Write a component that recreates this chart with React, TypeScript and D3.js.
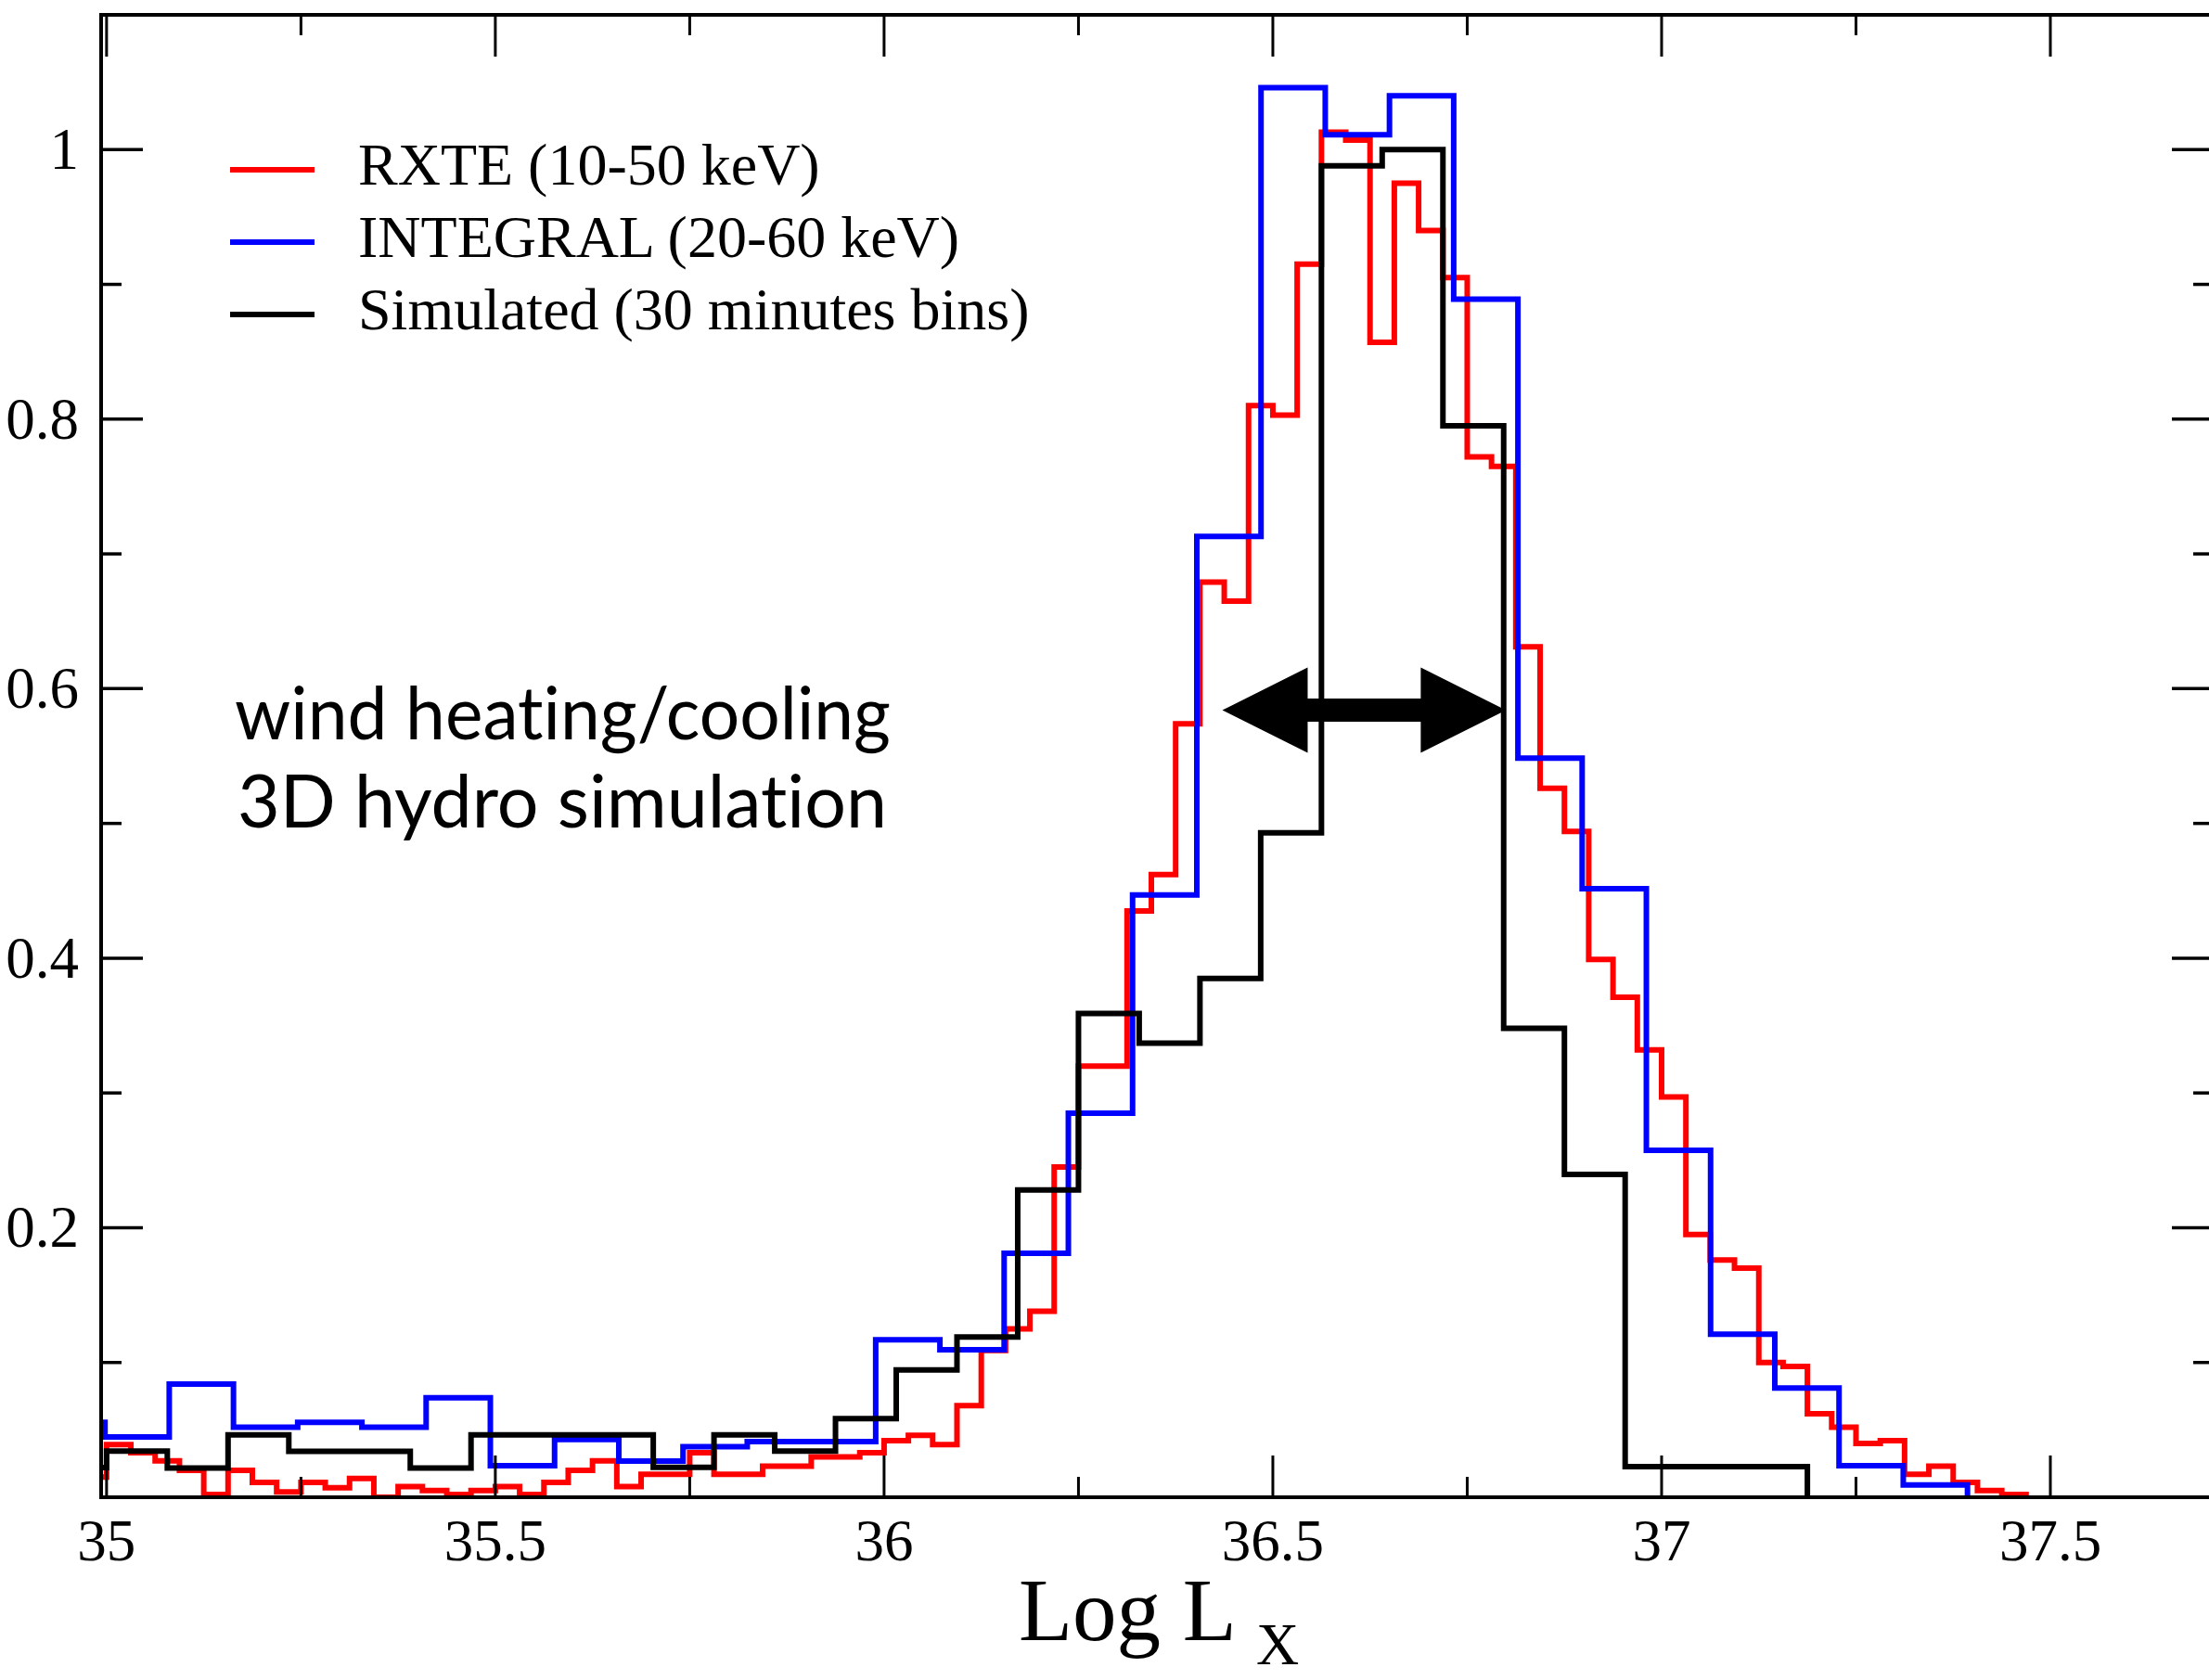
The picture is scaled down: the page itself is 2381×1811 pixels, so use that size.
import React from "react";
import * as d3 from "d3";

// ---- data ----
const rxteStart = 34.96875;
const rxteWidth = 1 / 32;
const rxteValues = [
  0.015, 0.039, 0.033, 0.027, 0.020, 0.002, 0.020, 0.011, 0.004, 0.011,
  0.007, 0.014, 0.000, 0.008, 0.005, 0.002, 0.005, 0.008, 0.002, 0.011,
  0.020, 0.027, 0.008, 0.017, 0.017, 0.033, 0.017, 0.017, 0.023, 0.023,
  0.030, 0.030, 0.033, 0.042, 0.046, 0.039, 0.068, 0.109, 0.125, 0.138,
  0.245, 0.320, 0.320, 0.435, 0.462, 0.574, 0.679, 0.665, 0.810, 0.803,
  0.915, 1.013, 1.007, 0.857, 0.975, 0.940, 0.905, 0.772, 0.765, 0.631,
  0.526, 0.494, 0.399, 0.371, 0.332, 0.297, 0.195, 0.176, 0.170, 0.100,
  0.097, 0.062, 0.052, 0.040, 0.042, 0.017, 0.023, 0.011, 0.005, 0.002,
];

const integralStart = 34.9154;
const integralWidth = 0.0826;
const integralValues = [
  0.0555, 0.0447, 0.084, 0.052, 0.0555, 0.052, 0.0739, 0.0234, 0.0429, 0.0268,
  0.0376, 0.0413, 0.0413, 0.1168, 0.1094, 0.181, 0.285, 0.447, 0.713, 1.046,
  1.011, 1.040, 0.889, 0.5485, 0.4515, 0.2575, 0.121, 0.081, 0.0234, 0.0092,
];

const simStart = 34.921875;
const simWidth = 0.078125;
const simValues = [
  0.022, 0.0342, 0.0216, 0.0463, 0.034, 0.034, 0.0216, 0.0463, 0.0463, 0.0463,
  0.0222, 0.0463, 0.0342, 0.0583, 0.0945, 0.119, 0.228, 0.359, 0.337, 0.385,
  0.493, 0.988, 1.000, 0.795, 0.348, 0.2395, 0.0227, 0.0227, 0.0227,
];

const xMajorTicks = [35, 35.5, 36, 36.5, 37, 37.5];
const xMinorTicks = [35.25, 35.75, 36.25, 36.75, 37.25];
const xTickLabels = ["35", "35.5", "36", "36.5", "37", "37.5"];
const yMajorTicks = [0.2, 0.4, 0.6, 0.8, 1.0];
const yMinorTicks = [0.1, 0.3, 0.5, 0.7, 0.9];
const yTickLabels = ["0.2", "0.4", "0.6", "0.8", "1"];

const legendLabels = [
  "RXTE (10-50 keV)",
  "INTEGRAL (20-60 keV)",
  "Simulated (30 minutes bins)",
];
const annotationLines = ["wind heating/cooling", "3D hydro simulation"];
const arrowFrom = 36.435;
const arrowTo = 36.8;
const arrowLevel = 0.584;

// ---- layout ----
const W = 2381;
const H = 1811;
const left = 109;
const right = 2386;
const top = 16;
const bottom = 1614;

const x = d3.scaleLinear().domain([34.993, 37.71]).range([left, right]);
const y = d3.scaleLinear().domain([0, 1.1]).range([bottom, top]);

function stepPath(start: number, width: number, values: number[]) {
  const pts: [number, number][] = [];
  pts.push([start, 0]);
  values.forEach((v, i) => {
    pts.push([start + i * width, v]);
    pts.push([start + (i + 1) * width, v]);
  });
  pts.push([start + values.length * width, 0]);
  const line = d3
    .line<[number, number]>()
    .x((d) => x(d[0]))
    .y((d) => y(d[1]));
  return line(pts) || "";
}

const series = [
  { start: rxteStart, width: rxteWidth, values: rxteValues, color: "#ff0000" },
  { start: integralStart, width: integralWidth, values: integralValues, color: "#0000ff" },
  { start: simStart, width: simWidth, values: simValues, color: "#000000" },
];

export default function App() {
  const major = 45;
  const minor = 22;
  const serif = "'Liberation Serif', 'Times New Roman', serif";
  const sans = "Lato, 'Open Sans', sans-serif";

  const ax1 = x(arrowFrom);
  const ax2 = x(arrowTo);
  const ay = y(arrowLevel);
  const headLen = 92;
  const headHalf = 46;
  const shaftHalf = 12.5;
  const arrowPts = [
    [ax1, ay],
    [ax1 + headLen, ay - headHalf],
    [ax1 + headLen, ay - shaftHalf],
    [ax2 - headLen, ay - shaftHalf],
    [ax2 - headLen, ay - headHalf],
    [ax2, ay],
    [ax2 - headLen, ay + headHalf],
    [ax2 - headLen, ay + shaftHalf],
    [ax1 + headLen, ay + shaftHalf],
    [ax1 + headLen, ay + headHalf],
  ]
    .map((p) => p.join(","))
    .join(" ");

  return (
    <svg
      width={W}
      height={H}
      viewBox={`0 0 ${W} ${H}`}
      style={{ position: "absolute", left: 0, top: 0, background: "#fff" }}
    >
      <rect x={0} y={0} width={W} height={H} fill="#fff" />
      <defs>
        <clipPath id="plotClip">
          <rect x={left} y={top} width={right - left} height={bottom - top} />
        </clipPath>
      </defs>

      <g clipPath="url(#plotClip)">
        {series.map((s, i) => (
          <path
            key={i}
            d={stepPath(s.start, s.width, s.values)}
            fill="none"
            stroke={s.color}
            strokeWidth={6}
            strokeLinejoin="miter"
            strokeLinecap="butt"
          />
        ))}
      </g>

      {/* arrow */}
      <polygon points={arrowPts} fill="#000" />

      {/* frame */}
      <rect
        x={left}
        y={top}
        width={right - left}
        height={bottom - top}
        fill="none"
        stroke="#000"
        strokeWidth={4}
      />

      {/* x ticks */}
      {xMajorTicks.map((t) => (
        <g key={"xM" + t}>
          <line x1={x(t)} x2={x(t)} y1={bottom} y2={bottom - major} stroke="#000" strokeWidth={3} />
          <line x1={x(t)} x2={x(t)} y1={top} y2={top + major} stroke="#000" strokeWidth={3} />
        </g>
      ))}
      {xMinorTicks.map((t) => (
        <g key={"xm" + t}>
          <line x1={x(t)} x2={x(t)} y1={bottom} y2={bottom - minor} stroke="#000" strokeWidth={3} />
          <line x1={x(t)} x2={x(t)} y1={top} y2={top + minor} stroke="#000" strokeWidth={3} />
        </g>
      ))}
      {xMajorTicks.map((t, i) => (
        <text
          key={"xl" + t}
          x={x(t)}
          y={1682}
          textAnchor="middle"
          fontFamily={serif}
          fontSize={63}
          fill="#000"
        >
          {xTickLabels[i]}
        </text>
      ))}

      {/* y ticks */}
      {yMajorTicks.map((t) => (
        <g key={"yM" + t}>
          <line x1={left} x2={left + major} y1={y(t)} y2={y(t)} stroke="#000" strokeWidth={3.5} />
          <line x1={right} x2={right - major} y1={y(t)} y2={y(t)} stroke="#000" strokeWidth={3.5} />
        </g>
      ))}
      {yMinorTicks.map((t) => (
        <g key={"ym" + t}>
          <line x1={left} x2={left + minor} y1={y(t)} y2={y(t)} stroke="#000" strokeWidth={3.5} />
          <line x1={right} x2={right - minor} y1={y(t)} y2={y(t)} stroke="#000" strokeWidth={3.5} />
        </g>
      ))}
      {yMajorTicks.map((t, i) => (
        <text
          key={"yl" + t}
          x={85}
          y={y(t) + 21}
          textAnchor="end"
          fontFamily={serif}
          fontSize={63}
          fill="#000"
        >
          {yTickLabels[i]}
        </text>
      ))}

      {/* axis title */}
      <text x={1098} y={1768} fontFamily={serif} fontSize={95} fill="#000">
        Log L
      </text>
      <text x={1354} y={1794} fontFamily={serif} fontSize={64} fill="#000">
        X
      </text>

      {/* legend */}
      {legendLabels.map((lab, i) => (
        <g key={"lg" + i}>
          <line
            x1={248}
            x2={339}
            y1={183 + i * 78}
            y2={183 + i * 78}
            stroke={series[i].color}
            strokeWidth={6}
          />
          <text x={386} y={199 + i * 78} fontFamily={serif} fontSize={64} fill="#000">
            {lab}
          </text>
        </g>
      ))}

      {/* annotation */}
      <text
        x={253}
        y={797}
        fontFamily={sans}
        fontSize={80}
        textLength={707}
        lengthAdjust="spacingAndGlyphs"
        fill="#000"
        style={{ fontVariantLigatures: "none", fontFeatureSettings: "'liga' 0" }}
      >
        {annotationLines[0]}
      </text>
      <text
        x={256}
        y={892}
        fontFamily={sans}
        fontSize={80}
        textLength={700}
        lengthAdjust="spacingAndGlyphs"
        fill="#000"
        style={{ fontVariantLigatures: "none", fontFeatureSettings: "'liga' 0" }}
      >
        {annotationLines[1]}
      </text>
    </svg>
  );
}
